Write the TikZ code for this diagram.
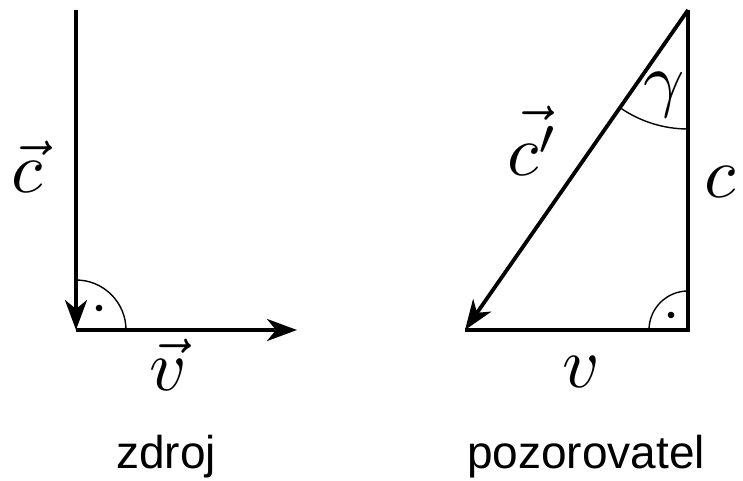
\documentclass[tikz,border=0pt]{standalone}
\usepackage{fontspec}
\setsansfont{Liberation Sans}
\usetikzlibrary{arrows.meta}
\tikzset{
  vecline/.style={line width=3.8pt},
  arrowline/.style={line width=3.8pt,-{Stealth[length=30pt,width=22pt,inset=9pt]}},
  anglearc/.style={line width=1.4pt},
  mathlbl/.style={scale=7.2,inner sep=0pt,anchor=base},
  caption/.style={font=\sffamily\fontsize{46}{50}\selectfont,inner sep=0pt,anchor=base},
}
\begin{document}
\begin{tikzpicture}[x=1pt,y=1pt]
\useasboundingbox (0,0) rectangle (743,480);
% left figure
\coordinate (ltop) at (76,470);
\coordinate (lcorner) at (76,150);
\coordinate (lright) at (297,150);
\draw[arrowline] (ltop) -- (lcorner);
\draw[arrowline] (lcorner) -- (lright);
\draw[anglearc] (76,200) arc[start angle=90,end angle=0,radius=50];
\fill (99,172) circle (3.3);
\node[mathlbl] (lc) at (27,288) {$\vec c$};
\node[mathlbl] (lv) at (168,90) {$\vec v$};
\node[caption] (zdroj) at (166,12) {zdroj};
% right figure
\coordinate (rtop) at (688,470);
\coordinate (rcorner) at (688,150);
\coordinate (rleft) at (465,150);
\draw[vecline,line join=miter] (rtop) -- (rcorner) -- (rleft);
\draw[arrowline] (rtop) -- (rleft);
\draw[anglearc] (688,189) arc[start angle=90,end angle=180,radius=39];
\fill (671,165) circle (3.3);
\draw[anglearc] (688,351) arc[start angle=270,end angle=235.1,radius=119];
\node[mathlbl] (gamma) at (664,377) {$\gamma$};
\node[mathlbl] (cprime) at (533,305) {$\vec{c'}$};
\node[mathlbl] (rc) at (720,283) {$c$};
\node[mathlbl] (rv) at (581,93) {$v$};
\node[caption] (pozor) at (586,12) {pozorovatel};
\end{tikzpicture}
\end{document}
